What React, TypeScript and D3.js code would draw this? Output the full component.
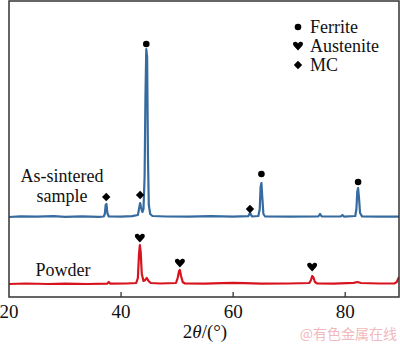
import React from "react";
import * as d3 from "d3";

// X-ray diffraction traces: [2θ (°), intensity above own baseline (a.u.)]
const sinteredTrace: [number, number][] = [
  [20, 0], [22, 0.6], [25, 0.3], [28, 0.8], [30, 0.1], [33, 0.6], [36, 0.2],
  [36.9, 0.5], [37.1, 3], [37.25, 12], [37.4, 13], [37.55, 4], [37.8, 0.5],
  [40, 0.3], [42, 0.8], [43.0, 2], [43.2, 8], [43.4, 14], [43.6, 9], [43.8, 5],
  [44.0, 8], [44.2, 40], [44.35, 120], [44.5, 168], [44.65, 160], [44.8, 60],
  [44.95, 12], [45.2, 3], [45.6, 1], [48, 0.5], [52, 0.3], [56, 0.8], [60, 0.3],
  [62.7, 0.8], [62.9, 3], [63.05, 4], [63.2, 2], [63.4, 0.5], [64.5, 1],
  [64.75, 8], [64.9, 30], [65.05, 34], [65.2, 20], [65.4, 3], [65.7, 0.5],
  [70, 0.3], [75.2, 0.5], [75.5, 3], [75.8, 0.6], [79.2, 0.5], [79.5, 2],
  [79.8, 0.4], [81.8, 1], [82.0, 8], [82.15, 25], [82.3, 29], [82.45, 20],
  [82.65, 4], [83, 0.6], [86, 0.3], [89.6, 0.4],
];

const powderTrace: [number, number][] = [
  [20, 0], [23, 0.5], [27, 0], [30, 0.4], [34, 0], [37.5, 0.3], [37.8, 2],
  [38.1, 0.3], [41, 0.5], [42.7, 1], [43.0, 6], [43.2, 30], [43.35, 39],
  [43.5, 32], [43.7, 10], [44.0, 3], [44.3, 4], [44.6, 6], [44.9, 3],
  [45.3, 1], [47, 0.5], [49.8, 1], [50.1, 6], [50.35, 13], [50.5, 14],
  [50.7, 8], [51.0, 2], [51.4, 0.5], [55, 0.3], [58, 0.8], [60, 1.2],
  [62, 0.8], [65, 0.4], [70, 0.5], [73.6, 1], [73.9, 4], [74.1, 8], [74.3, 7],
  [74.6, 2], [75.0, 0.5], [78, 0.4], [81.5, 1.2], [82.2, 2], [82.8, 1],
  [86, 0.5], [88.8, 0.6], [89.2, 2], [89.6, 7],
];

// vertical stacking offsets (a.u.)
const sinteredOffset = 80;
const powderOffset = 13;

// phase markers: [2θ, intensity above baseline]
const ferriteMarks: [number, number][] = [[44.5, 173], [65.05, 43], [82.3, 35]];
const mcMarks: [number, number][] = [[37.35, 20], [43.4, 22], [63.0, 8]];
const austeniteMarks: [number, number][] = [[43.35, 46], [50.5, 21], [74.1, 17]];

const xTicks = [20, 40, 60, 80];
const legendItems = ["Ferrite", "Austenite", "MC"];
const sampleLabels = ["As-sintered", "sample"];
const powderLabel = "Powder";

const W = 400;
const H = 345;
const plot = { left: 9, right: 399, top: 1, bottom: 297 };

const x = d3.scaleLinear().domain([20, 89.6]).range([plot.left, plot.right]);
const y = d3.scaleLinear().domain([0, 296]).range([plot.bottom, plot.top]);

function Dot({ cx, cy }: { cx: number; cy: number }) {
  return <circle cx={cx} cy={cy} r={3.3} fill="#000" />;
}
function Diamond({ cx, cy }: { cx: number; cy: number }) {
  const s = 4.2;
  return <path d={`M${cx},${cy - s}L${cx + s},${cy}L${cx},${cy + s}L${cx - s},${cy}Z`} fill="#000" />;
}
function Heart({ cx, cy }: { cx: number; cy: number }) {
  const d = `M${cx},${cy + 4.5}
    C${cx - 2},${cy + 2} ${cx - 5},${cy} ${cx - 5},${cy - 2}
    C${cx - 5},${cy - 4.5} ${cx - 1.5},${cy - 5} ${cx},${cy - 2.5}
    C${cx + 1.5},${cy - 5} ${cx + 5},${cy - 4.5} ${cx + 5},${cy - 2}
    C${cx + 5},${cy} ${cx + 2},${cy + 2} ${cx},${cy + 4.5}Z`;
  return <path d={d} fill="#000" />;
}

export default function App() {
  const lineOf = (offset: number) =>
    d3
      .line<[number, number]>()
      .x((d) => x(d[0]))
      .y((d) => y(d[1] + offset));

  const sinteredPath = lineOf(sinteredOffset)(sinteredTrace) || "";
  const powderPath = lineOf(powderOffset)(powderTrace) || "";

  const legendX = 298;
  const legendTextX = 310;
  const legendY0 = 33;
  const legendDy = 19;

  const textStyle = { fontFamily: "'Liberation Serif', 'DejaVu Serif', serif" };

  return (
    <div style={{ position: "fixed", left: 0, top: 0, width: W, height: H, background: "#fff" }}>
      <svg width={W} height={H} style={{ display: "block", ...textStyle }}>
        <defs>
          <clipPath id="plotClip">
            <rect x={plot.left} y={plot.top} width={plot.right - plot.left} height={plot.bottom - plot.top} />
          </clipPath>
        </defs>
        <rect x={0} y={0} width={W} height={H} fill="#fff" />

        <g clipPath="url(#plotClip)">
          <path d={powderPath} fill="none" stroke="#d7141e" strokeWidth={2.2} strokeLinejoin="round" />
          <path d={sinteredPath} fill="none" stroke="#366ba0" strokeWidth={2.2} strokeLinejoin="round" />
        </g>

        {ferriteMarks.map(([t, v], i) => (
          <Dot key={"f" + i} cx={x(t)} cy={y(v + sinteredOffset)} />
        ))}
        {mcMarks.map(([t, v], i) => (
          <Diamond key={"m" + i} cx={x(t)} cy={y(v + sinteredOffset)} />
        ))}
        {austeniteMarks.map(([t, v], i) => (
          <Heart key={"a" + i} cx={x(t)} cy={y(v + powderOffset)} />
        ))}

        {/* frame */}
        <rect
          x={plot.left}
          y={plot.top}
          width={plot.right - plot.left}
          height={plot.bottom - plot.top}
          fill="none"
          stroke="#333"
          strokeWidth={1.5}
        />

        {/* x ticks */}
        {xTicks.map((t) => (
          <g key={t}>
            {t !== 20 && (
              <line x1={x(t)} x2={x(t)} y1={plot.bottom} y2={plot.bottom - 5} stroke="#333" strokeWidth={1.3} />
            )}
            <text x={x(t)} y={318} textAnchor="middle" fontSize={19} fill="#111" style={textStyle}>
              {t}
            </text>
          </g>
        ))}

        <text x={205} y={338} textAnchor="middle" fontSize={19} fill="#111" style={textStyle}>
          2<tspan fontStyle="italic">θ</tspan>/(°)
        </text>

        {/* legend */}
        {legendItems.map((name, i) => {
          const cy = legendY0 + i * legendDy - 6;
          return (
            <g key={name}>
              {i === 0 && <Dot cx={legendX} cy={cy} />}
              {i === 1 && <Heart cx={legendX} cy={cy} />}
              {i === 2 && <Diamond cx={legendX} cy={cy} />}
              <text x={legendTextX} y={legendY0 + i * legendDy} fontSize={18} fill="#111" style={textStyle}>
                {name}
              </text>
            </g>
          );
        })}

        {/* sample labels */}
        {sampleLabels.map((s, i) => (
          <text key={s} x={62} y={182 + i * 20} textAnchor="middle" fontSize={18} fill="#111" style={textStyle}>
            {s}
          </text>
        ))}
        <text x={63} y={276} textAnchor="middle" fontSize={18} fill="#111" style={textStyle}>
          {powderLabel}
        </text>

        {/* watermark */}
        <text x={397} y={339} textAnchor="end" fontSize={14} fill="#f2b9bd" style={{ fontFamily: "'Noto Sans CJK SC', sans-serif" }}>
          @有色金属在线
        </text>
      </svg>
    </div>
  );
}
